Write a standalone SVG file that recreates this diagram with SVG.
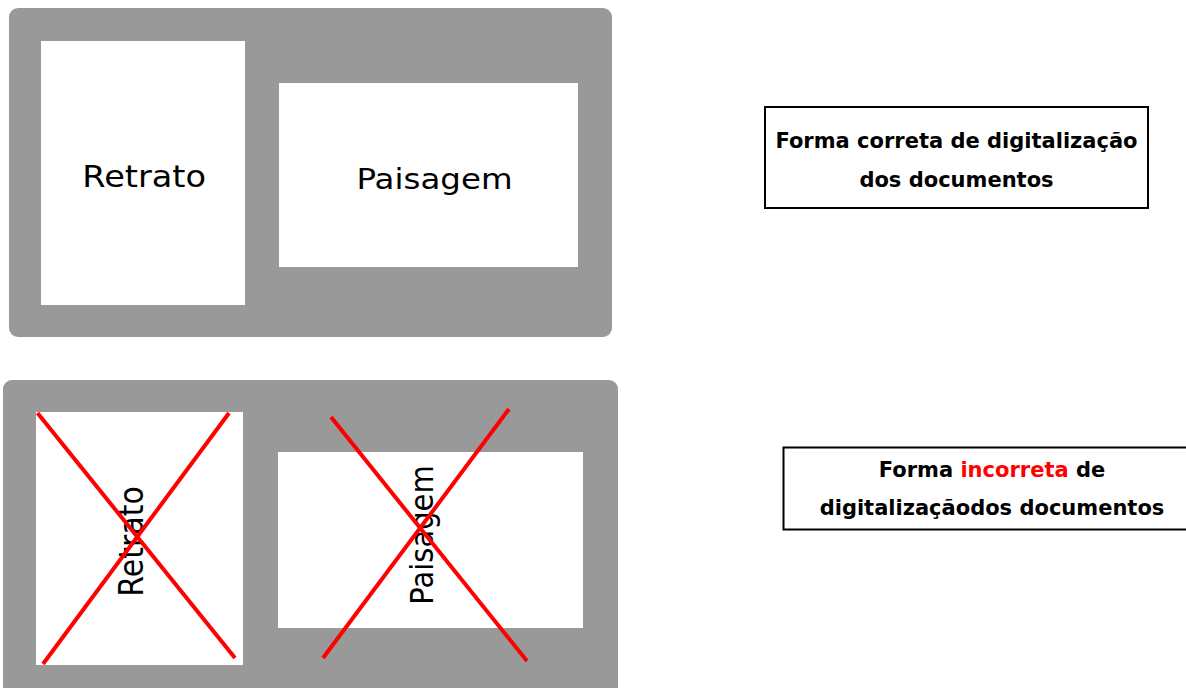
<svg xmlns="http://www.w3.org/2000/svg" width="1186" height="688" viewBox="0 0 1186 688">
<style>
.panel{fill:#999999}
.page{fill:#ffffff}
.lbl{font-family:"DejaVu Sans",Verdana,sans-serif;fill:#000000;text-anchor:middle}
.cross{stroke:#ff0000;stroke-width:4;stroke-linecap:butt}
.box{fill:#ffffff;stroke:#000000;stroke-width:2}
.cap{font-family:"DejaVu Sans",Verdana,sans-serif;font-weight:bold;font-size:21px;fill:#000000;text-anchor:middle}
</style>
<rect width="1186" height="688" fill="#ffffff"/>
<g id="panel-correct">
  <rect class="panel" x="9" y="8" width="603" height="329" rx="9"/>
  <g id="retrato-correct">
    <rect class="page" x="41" y="41" width="204" height="264"/>
    <text class="lbl" font-size="30" transform="translate(144.2,186.7) scale(1.12,1)">Retrato</text>
  </g>
  <g id="paisagem-correct">
    <rect class="page" x="279" y="83" width="299" height="184"/>
    <text class="lbl" font-size="29" transform="translate(434.5,189.3) scale(1.12,1)">Paisagem</text>
  </g>
</g>
<g id="panel-incorrect">
  <rect class="panel" x="3" y="380" width="615" height="330" rx="9"/>
  <g id="retrato-incorrect">
    <rect class="page" x="36" y="412" width="207" height="253"/>
    <text class="lbl" font-size="30" transform="translate(143.3,541.5) scale(1.12,1) rotate(-90)">Retrato</text>
  </g>
  <g id="paisagem-incorrect">
    <rect class="page" x="278" y="452" width="305" height="176"/>
    <text class="lbl" font-size="29" transform="translate(433.3,535) scale(1.12,1) rotate(-90)">Paisagem</text>
  </g>
</g>
<g id="connectors">
  <line class="cross" x1="37.5" y1="413" x2="235" y2="658"/>
  <line class="cross" x1="229" y1="413" x2="43" y2="664"/>
  <line class="cross" x1="331" y1="417" x2="527" y2="661"/>
  <line class="cross" x1="509" y1="409" x2="323" y2="658"/>
</g>
<g id="caption-correct">
  <rect class="box" x="765" y="107" width="383" height="101"/>
  <text class="cap" x="956.5" y="148">Forma correta de digitalização</text>
  <text class="cap" x="956.5" y="187">dos documentos</text>
</g>
<g id="caption-incorrect">
  <rect class="box" x="783.5" y="447.5" width="420" height="82"/>
  <text class="cap" x="992" y="477">Forma <tspan fill="#ff0000">incorreta</tspan> de</text>
  <text class="cap" x="992" y="515">digitalizaçãodos documentos</text>
</g>
</svg>
